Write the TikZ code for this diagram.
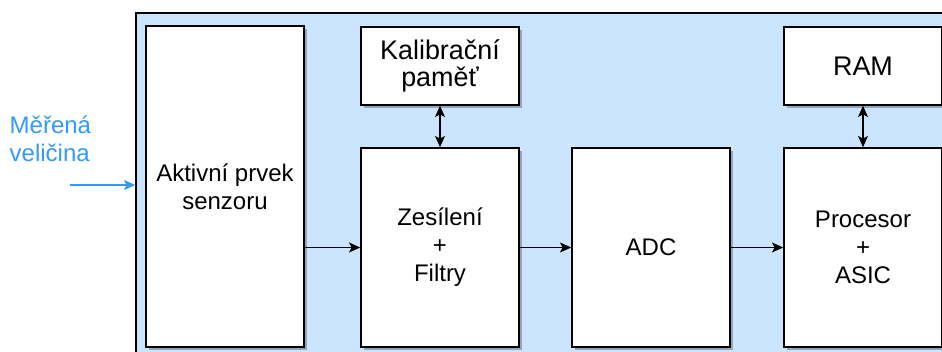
\documentclass[tikz,border=0pt]{standalone}
\usepackage{fontspec}
\setmainfont{Liberation Sans}
\usetikzlibrary{arrows.meta,shadows}
\definecolor{panelblue}{HTML}{CCE5FF}
\definecolor{inblue}{HTML}{3399FF}
\tikzset{
  panel/.style={draw=black, line width=1.1pt, fill=panelblue, rectangle, inner sep=0pt},
  block/.style={draw=black, line width=1.1pt, fill=white, rectangle, inner sep=0pt,
    align=center, font=\fontsize{18pt}{21pt}\selectfont,
    drop shadow={shadow xshift=2.4pt, shadow yshift=-2.4pt, fill=black, opacity=0.28}},
  bigtext/.style={font=\fontsize{20.2pt}{20.5pt}\selectfont},
  link/.style={draw=black, line width=0.9pt, -{Stealth[length=8.5pt,width=7.5pt,inset=2pt]}},
  duplex/.style={draw=black, line width=0.9pt, {Stealth[length=8.5pt,width=7.5pt,inset=2pt]}-{Stealth[length=8.5pt,width=7.5pt,inset=2pt]}},
  inlink/.style={draw=inblue, line width=0.9pt, -{Stealth[length=8.5pt,width=7.5pt,inset=2pt]}},
}
\begin{document}
\begin{tikzpicture}[x=0.75pt, y=-0.75pt]
  \useasboundingbox (0,0) rectangle (942,352);
  \clip (0,0) rectangle (942,352);

  % sensor module housing
  \node[panel, minimum width=824*0.75pt, minimum height=357*0.75pt] (housing) at (548,191.5) {};

  % functional blocks
  \node[block, minimum width=158*0.75pt, minimum height=321*0.75pt] (sensor) at (225,186.5) {Aktivní prvek\\senzoru};
  \node[block, bigtext, minimum width=158*0.75pt, minimum height=78*0.75pt] (calib) at (440,66) {Kalibrační\\paměť};
  \node[block, minimum width=158*0.75pt, minimum height=199*0.75pt] (amp) at (440,247.5) {Zesílení\\+\\Filtry};
  \node[block, minimum width=158*0.75pt, minimum height=199*0.75pt] (adc) at (651,247.5) {ADC};
  \node[block, bigtext, minimum width=158*0.75pt, minimum height=78*0.75pt] (ram) at (863,66) {RAM};
  \node[block, minimum width=158*0.75pt, minimum height=199*0.75pt] (cpu) at (863,247.5) {Procesor\\+\\ASIC};

  % signal path
  \draw[link] (sensor.east |- amp.west) -- (amp.west);
  \draw[link] (amp.east) -- (adc.west);
  \draw[link] (adc.east) -- (cpu.west);

  % memory buses
  \draw[duplex] (calib.south) -- (amp.north);
  \draw[duplex] (ram.south) -- (cpu.north);

  % measured quantity input
  \node[text=inblue, align=left, anchor=west, font=\fontsize{18pt}{21pt}\selectfont] (quantity) at (5,139) {Měřená\\veličina};
  \coordinate (src) at (70,185);
  \draw[inlink] (src) -- (src -| housing.west);
\end{tikzpicture}
\end{document}
